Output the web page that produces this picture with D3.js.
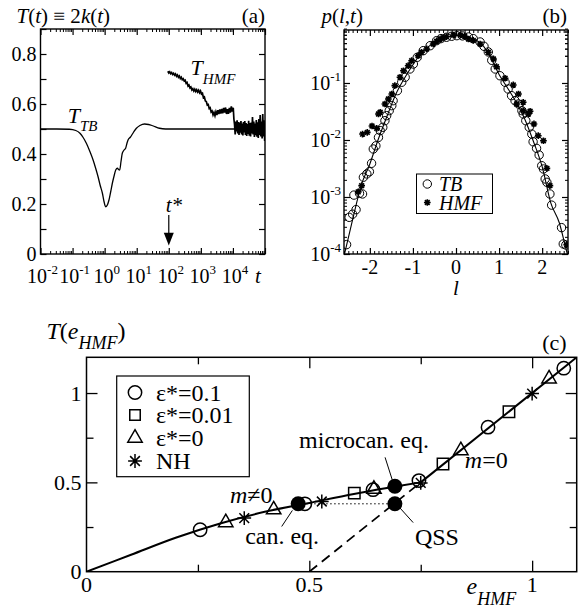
<!DOCTYPE html>
<html>
<head>
<meta charset="utf-8">
<script src="https://cdn.jsdelivr.net/npm/d3@7"></script>
<style>
body { margin: 0; background: #fff; }
text { font-family: 'Liberation Serif', 'DejaVu Serif', serif; }
</style>
</head>
<body>
<div id="chart"></div>
<script>
// ---- panel (a): T(t) vs t (log10 t exponents)
var tbExp = [-2,-1.5,-1.1,-0.9,-0.77,-0.67,-0.57,-0.46,-0.36,-0.28,-0.205,-0.14,-0.07,-0.02,0.03,
  0.08,0.135,0.19,0.24,0.29,0.345,0.40,0.44,0.47,0.51,0.55,0.6,0.655,0.7,0.73,
  0.8,0.9,0.99,1.1,1.245,1.37,1.5,1.71,1.9,2.5,3,4,5];
var tbT = [.5,.5,.499,.494,.483,.466,.443,.41,.376,.343,.309,.275,.243,.21,.189,
  .195,.216,.25,.283,.31,.336,.343,.337,.336,.37,.403,.415,.423,.445,.456,
  .467,.487,.503,.514,.52,.518,.513,.503,.5,.5,.5,.5,.5];

var hmfExp = [1.97,2.00,2.03,2.06,2.09,2.12,2.15,2.18,2.21,2.24,
  2.27,2.30,2.33,2.36,2.39,2.42,2.45,2.48,2.51,2.54,
  2.57,2.60,2.63,2.66,2.69,2.72,2.75,2.78,2.81,2.84,
  2.87,2.90,2.93,2.96,2.99,3.02,3.05,3.08,3.11,3.14,
  3.17,3.20,3.23,3.26,3.29,3.32,3.35,3.38,3.41,3.44,
  3.47,3.50,3.53,3.56,3.59,3.62,3.65,3.68,3.71,3.74,
  3.77,3.80,3.83,3.86,3.89,3.92,3.95,3.98,4.01,4.03,
  4.05,4.07,4.09,4.11,4.13,4.15,4.17,4.19,4.21,4.23,
  4.25,4.27,4.29,4.31,4.33,4.35,4.37,4.39,4.41,4.43,
  4.45,4.47,4.49,4.51,4.53,4.55,4.57,4.59,4.61,4.63,
  4.65,4.67,4.69,4.71,4.73,4.75,4.77,4.79,4.81,4.83,
  4.85,4.87,4.89,4.91,4.93,4.95,4.97,4.99,5.00];
var hmfT = [.731,.724,.729,.721,.726,.718,.723,.715,.720,.711,
  .716,.707,.712,.702,.707,.697,.701,.692,.695,.683,
  .686,.672,.676,.664,.668,.656,.661,.652,.659,.650,
  .657,.648,.655,.645,.652,.640,.643,.625,.628,.612,
  .610,.596,.598,.582,.585,.568,.572,.556,.566,.553,
  .569,.556,.575,.560,.578,.562,.580,.563,.584,.566,
  .586,.560,.579,.561,.584,.566,.590,.570,.585,.540,
  .518,.478,.530,.490,.535,.482,.528,.476,.526,.485,
  .532,.478,.522,.474,.528,.486,.532,.476,.524,.472,
  .520,.480,.533,.473,.524,.470,.526,.482,.548,.478,
  .530,.468,.522,.475,.536,.469,.527,.464,.540,.476,
  .556,.470,.530,.462,.560,.470,.535,.452,.500];

var aYTicks = [0, 0.2, 0.4, 0.6, 0.8];
var aXDecades = [-2, -1, 0, 1, 2, 3, 4];

// ---- panel (b): p(l,t)
var tbL = [-2.54,-2.48,-2.40,-2.32,-2.37,-2.24,-2.17,-2.15,-2.07,-2.01,
  -1.96,-1.92,-1.86,-1.80,-1.76,-1.70,-1.65,-1.61,-1.55,-1.49,
  -1.46,-1.36,-1.26,-1.18,-1.07,-0.99,-0.90,-0.76,-0.60,-0.45,
  -0.35,-0.22,-0.10,0.02,0.15,0.29,0.40,0.56,0.65,0.75,
  0.83,0.91,1.02,1.14,1.21,1.29,1.37,1.45,1.53,1.56,
  1.62,1.70,1.76,1.79,1.87,1.93,1.99,2.03,2.07,2.11,
  2.18,2.22,2.45,2.49,2.55];
var tbP = [1.46e-4,4.4e-4,5.0e-4,6.0e-4,1.08e-3,1.16e-3,1.13e-3,2.22e-3,2.54e-3,2.78e-3,
  3.9e-3,6.95e-3,7.9e-3,0.0111,0.0146,0.0167,0.0218,0.0267,0.0327,0.040,
  0.0489,0.0733,0.103,0.126,0.176,0.215,0.282,0.369,0.451,0.552,
  0.60,0.634,0.66,0.676,0.67,0.641,0.60,0.524,0.44,0.35,
  0.25,0.176,0.134,0.103,0.0785,0.0599,0.0489,0.0428,0.0327,0.0286,
  0.0218,0.0167,0.0127,0.0093,0.00714,0.00545,0.00354,0.0031,0.00207,0.00181,
  0.00113,7.2e-4,2.9e-4,1.5e-4,1.44e-4];

var hmfL = [-2.27,-2.19,-2.17,-2.06,-1.95,-1.84,-1.80,-1.76,-1.65,-1.57,
  -1.49,-1.42,-1.30,-1.22,-1.11,-1.03,-0.88,-0.80,-0.68,-0.53,
  -0.45,-0.37,-0.30,-0.22,-0.06,0.10,0.20,0.29,0.40,0.56,
  0.75,0.87,0.94,1.14,1.33,1.41,1.45,1.56,1.56,1.68,
  1.72,1.81,1.91,2.03,2.11,2.18,2.57];
var hmfP = [1.23e-3,1.58e-3,0.0127,0.0136,0.0176,0.016,0.0286,0.0306,0.0428,0.0524,
  0.0641,0.0897,0.126,0.164,0.201,0.246,0.301,0.346,0.395,0.483,
  0.54,0.591,0.62,0.649,0.695,0.69,0.66,0.591,0.56,0.483,
  0.346,0.264,0.193,0.121,0.0923,0.0428,0.0641,0.0458,0.0327,0.0286,
  0.0319,0.0191,0.0119,0.0097,3.18e-3,1.58e-3,1.46e-4];

var fitL = [-2.62,-2.4,-2.2,-2.0,-1.8,-1.6,-1.4,-1.2,-1.0,-0.8,-0.6,-0.4,-0.2,0,
  0.2,0.4,0.6,0.8,1.0,1.2,1.4,1.6,1.8,2.0,2.2,2.4,2.55,2.62];
var fitP = [7.9e-5,4.0e-4,1.6e-3,3.8e-3,0.0105,0.0263,0.063,0.12,0.209,0.339,0.457,0.562,0.646,0.676,
  0.661,0.589,0.479,0.282,0.141,0.081,0.0457,0.0229,0.0093,0.0034,7.9e-4,3.5e-4,1.26e-4,7.9e-5];

var bXTicks = [-2, -1, 0, 1, 2];
var bYDecades = [-4, -3, -2, -1];

// ---- panel (c): T(e_HMF)
var lowE = [0, 0.1, 0.2, 0.3, 0.4, 0.5, 0.6, 0.7, 0.75];
var lowT = [0, 0.095, 0.19, 0.27, 0.335, 0.385, 0.435, 0.48, 0.5];
var highE = [0.75, 1.1];
var highT = [0.5, 1.2];
var qssE = [0.5, 0.75];     // dashed m=0 continuation
var qssT = [0, 0.5];

var eps01E = [0.255, 0.49, 0.643, 0.746, 0.901, 1.071];
var eps01T = [0.235, 0.38, 0.459, 0.51, 0.809, 1.139];
var eps001E = [0.601, 0.80, 0.948];
var eps001T = [0.44, 0.603, 0.895];
var eps0E = [0.3125, 0.42, 0.645, 0.84, 1.038];
var eps0T = [0.275, 0.347, 0.462, 0.678, 1.08];
var nhE = [0.354, 0.528, 0.75, 1.0];
var nhT = [0.30, 0.393, 0.497, 0.997];

var canE = 0.475, canT = 0.38;      // can. eq.
var micE = 0.692, micT = 0.478;     // microcan. eq.
var qsE = 0.692, qsT = 0.38;        // QSS

var cTicks = [0, 0.5, 1];
var cTickLabels = ['0', '0.5', '1'];
var legendC = ['\u03b5*=0.1', '\u03b5*=0.01', '\u03b5*=0', 'NH'];

// ---------------------------------------------------------------
var FONT = "'Liberation Serif', 'DejaVu Serif', serif";
var svg = d3.select('#chart').append('svg').attr('width', 582).attr('height', 609)
  .style('font-family', FONT);

// 8-armed star like xmgrace
var star8 = {
  draw: function(ctx, size) {
    var r = Math.sqrt(size) / 2;
    for (var i = 0; i < 4; i++) {
      var a = i * Math.PI / 4;
      ctx.moveTo(-r * Math.cos(a), -r * Math.sin(a));
      ctx.lineTo(r * Math.cos(a), r * Math.sin(a));
    }
  }
};

function label(x, y, parts, size, anchor) {
  var t = svg.append('text').attr('x', x).attr('y', y)
    .style('font-family', FONT)
    .attr('font-size', size).attr('text-anchor', anchor || 'start');
  parts.forEach(function(p) {
    var s = t.append('tspan').text(p.t);
    if (p.i) s.attr('font-style', 'italic');
    if (p.dy) s.attr('dy', p.dy);
    if (p.fs) s.attr('font-size', p.fs);
  });
  return t;
}

function addTicks(axis, tr, w) {
  svg.append('g').attr('transform', tr)
    .call(axis.tickFormat(''))
    .call(function(s) {
      s.select('.domain').remove();
      s.selectAll('text').remove();
      s.selectAll('line').attr('stroke-width', w || 1);
    });
}

function frame(x0, y0, x1, y1, w) {
  svg.append('rect').attr('x', x0).attr('y', y0)
    .attr('width', x1 - x0).attr('height', y1 - y0)
    .attr('fill', 'none').attr('stroke', '#000').attr('stroke-width', w);
}

function clip(id, x0, y0, x1, y1) {
  svg.append('clipPath').attr('id', id).append('rect')
    .attr('x', x0).attr('y', y0).attr('width', x1 - x0).attr('height', y1 - y0);
}

// ================= panel (a)
var aL = 40.5, aR = 265, aT = 29, aB = 254;
var xA = d3.scaleLog().domain([1e-2, 1e5]).range([aL, aR]);
var yA = d3.scaleLinear().domain([0, 0.9]).range([aB, aT]);

var aMaj = [], aMin = [];
for (var d = -2; d <= 5; d++) {
  aMaj.push(Math.pow(10, d));
  if (d < 5) for (var k = 2; k <= 9; k++) aMin.push(k * Math.pow(10, d));
}
var aY = d3.range(0, 0.91, 0.1);

addTicks(d3.axisBottom(xA).tickValues(aMaj).tickSize(-6), 'translate(0,' + aB + ')', 1.2);
addTicks(d3.axisBottom(xA).tickValues(aMin).tickSize(-3), 'translate(0,' + aB + ')', 1);
addTicks(d3.axisTop(xA).tickValues(aMaj).tickSize(-6), 'translate(0,' + aT + ')', 1.2);
addTicks(d3.axisTop(xA).tickValues(aMin).tickSize(-3), 'translate(0,' + aT + ')', 1);
addTicks(d3.axisLeft(yA).tickValues(aY).tickSize(-6), 'translate(' + aL + ',0)', 1.2);
addTicks(d3.axisRight(yA).tickValues(aY).tickSize(-6), 'translate(' + aR + ',0)', 1.2);

clip('clipA', aL, aT, aR, aB);
var lineA = d3.line().x(function(d) { return xA(Math.pow(10, d[0])); }).y(function(d) { return yA(d[1]); });
svg.append('path').attr('clip-path', 'url(#clipA)')
  .attr('d', lineA.curve(d3.curveMonotoneX)(d3.zip(tbExp, tbT)))
  .attr('fill', 'none').attr('stroke', '#000').attr('stroke-width', 1.3);
svg.append('path').attr('clip-path', 'url(#clipA)')
  .attr('d', lineA.curve(d3.curveLinear)(d3.zip(hmfExp, hmfT)))
  .attr('fill', 'none').attr('stroke', '#000').attr('stroke-width', 1.7);

frame(aL, aT, aR, aB, 1.4);

aYTicks.forEach(function(v) {
  label(36.5, yA(v), [{ t: v === 0 ? '0' : d3.format('.1f')(v) }], 20, 'end').attr('dy', '0.35em');
});
aXDecades.forEach(function(e) {
  label(xA(Math.pow(10, e)) + 2, 283, [{ t: '10' }, { t: e < 0 ? '-' + (-e) : String(e), fs: 13, dy: -9 }], 20, 'middle');
});
label(255, 283, [{ t: 't', i: 1 }], 21);
label(16.5, 22.5, [{ t: 'T', i: 1 }, { t: '(' }, { t: 't', i: 1 }, { t: ') \u2261 2' }, { t: 'k', i: 1 }, { t: '(' }, { t: 't', i: 1 }, { t: ')' }], 21);
label(265, 22.5, [{ t: '(a)' }], 21, 'end');
label(xA(Math.pow(10, -1.15)), yA(0.523), [{ t: 'T', i: 1 }, { t: 'TB', i: 1, fs: 15, dy: 8 }], 22);
label(xA(Math.pow(10, 2.68)), yA(0.716), [{ t: 'T', i: 1 }, { t: 'HMF', i: 1, fs: 15, dy: 9 }], 22);

// t* arrow
svg.append('line').attr('x1', xA(100)).attr('x2', xA(100))
  .attr('y1', yA(0.156)).attr('y2', yA(0.07))
  .attr('stroke', '#000').attr('stroke-width', 1.2);
svg.append('path')
  .attr('d', 'M' + (xA(100) - 5) + ',' + yA(0.085) + 'L' + (xA(100) + 5) + ',' + yA(0.085) + 'L' + xA(100) + ',' + yA(0.034) + 'Z')
  .attr('fill', '#000');
label(xA(100) - 3, yA(0.168), [{ t: 't*', i: 1 }], 21);

// ================= panel (b)
var bL = 344, bR = 568, bT = 30, bB = 254;
var xB = d3.scaleLinear().domain([-2.6, 2.6]).range([bL, bR]);
var yB = d3.scaleLog().domain([1e-4, 0.85]).range([bB, bT]);

var bYMaj = [], bYMin = [];
for (var d2 = -4; d2 <= -1; d2++) {
  bYMaj.push(Math.pow(10, d2));
  for (var k2 = 2; k2 <= 9; k2++) bYMin.push(k2 * Math.pow(10, d2));
}
bYMin = bYMin.concat([0.2, 0.3, 0.4, 0.5, 0.6, 0.7, 0.8]);
var bXMin = d3.range(-2.6, 2.61, 0.1).filter(function(v) { return Math.abs(v - Math.round(v)) > 0.01; });

addTicks(d3.axisBottom(xB).tickValues(bXTicks).tickSize(-6), 'translate(0,' + bB + ')', 1.2);
addTicks(d3.axisBottom(xB).tickValues(bXMin).tickSize(-3), 'translate(0,' + bB + ')', 1);
addTicks(d3.axisTop(xB).tickValues(bXTicks).tickSize(-6), 'translate(0,' + bT + ')', 1.2);
addTicks(d3.axisTop(xB).tickValues(bXMin).tickSize(-3), 'translate(0,' + bT + ')', 1);
addTicks(d3.axisLeft(yB).tickValues(bYMaj).tickSize(-6), 'translate(' + bL + ',0)', 1.2);
addTicks(d3.axisLeft(yB).tickValues(bYMin).tickSize(-3), 'translate(' + bL + ',0)', 1);
addTicks(d3.axisRight(yB).tickValues(bYMaj).tickSize(-6), 'translate(' + bR + ',0)', 1.2);
addTicks(d3.axisRight(yB).tickValues(bYMin).tickSize(-3), 'translate(' + bR + ',0)', 1);

clip('clipB', bL, bT, bR, bB);
svg.append('path').attr('clip-path', 'url(#clipB)')
  .attr('d', d3.line().curve(d3.curveMonotoneX)
    .x(function(d) { return xB(d[0]); }).y(function(d) { return yB(d[1]); })(d3.zip(fitL, fitP)))
  .attr('fill', 'none').attr('stroke', '#000').attr('stroke-width', 1.1);

svg.append('g').attr('clip-path', 'url(#clipB)').selectAll('circle')
  .data(d3.zip(tbL, tbP)).enter().append('circle')
  .attr('cx', function(d) { return xB(d[0]); })
  .attr('cy', function(d) { return yB(d[1]); })
  .attr('r', 4.2).attr('fill', 'none').attr('stroke', '#000').attr('stroke-width', 1);

svg.append('g').attr('clip-path', 'url(#clipB)').selectAll('path')
  .data(d3.zip(hmfL, hmfP)).enter().append('path')
  .attr('transform', function(d) { return 'translate(' + xB(d[0]) + ',' + yB(d[1]) + ')'; })
  .attr('d', d3.symbol().type(star8).size(45))
  .attr('fill', 'none').attr('stroke', '#000').attr('stroke-width', 1.6);

frame(bL, bT, bR, bB, 1.4);

bXTicks.forEach(function(v) {
  label(xB(v), 273.5, [{ t: v < 0 ? '-' + (-v) : String(v) }], 20, 'middle');
});
bYDecades.forEach(function(e) {
  label(341, yB(Math.pow(10, e)) + 7, [{ t: '10' }, { t: '-' + (-e), fs: 13, dy: -9 }], 20, 'end');
});
label(xB(0), 295, [{ t: 'l', i: 1 }], 21, 'middle');
label(321.5, 22.5, [{ t: 'p', i: 1 }, { t: '(' }, { t: 'l', i: 1 }, { t: ',' }, { t: 't', i: 1 }, { t: ')' }], 21);
label(567, 22.5, [{ t: '(b)' }], 21, 'end');

// legend (b)
svg.append('rect').attr('x', 416.5).attr('y', 174).attr('width', 76).attr('height', 39.5)
  .attr('fill', '#fff').attr('stroke', '#000').attr('stroke-width', 1);
svg.append('circle').attr('cx', 427.3).attr('cy', 184).attr('r', 4.2)
  .attr('fill', 'none').attr('stroke', '#000').attr('stroke-width', 1);
svg.append('path').attr('transform', 'translate(427.3,202.5)')
  .attr('d', d3.symbol().type(star8).size(45)())
  .attr('fill', 'none').attr('stroke', '#000').attr('stroke-width', 1.6);
label(439, 190.5, [{ t: 'TB', i: 1 }], 20);
label(439, 209.5, [{ t: 'HMF', i: 1 }], 20);

// ================= panel (c)
var cL = 86.5, cR = 576.7, cT = 357.3, cB = 571.7;
var xC = d3.scaleLinear().domain([0, 1.1]).range([cL, cR]);
var yC = d3.scaleLinear().domain([0, 1.2]).range([cB, cT]);
var cMin = [0.25, 0.75];
var cMajIn = [0.5, 1];

addTicks(d3.axisBottom(xC).tickValues(cMajIn).tickSize(-11), 'translate(0,' + cB + ')', 1.3);
addTicks(d3.axisBottom(xC).tickValues(cMin).tickSize(-7), 'translate(0,' + cB + ')', 1.3);
addTicks(d3.axisTop(xC).tickValues(cMajIn).tickSize(-11), 'translate(0,' + cT + ')', 1.3);
addTicks(d3.axisTop(xC).tickValues(cMin).tickSize(-7), 'translate(0,' + cT + ')', 1.3);
addTicks(d3.axisLeft(yC).tickValues(cMajIn).tickSize(-11), 'translate(' + cL + ',0)', 1.3);
addTicks(d3.axisLeft(yC).tickValues(cMin).tickSize(-7), 'translate(' + cL + ',0)', 1.3);
addTicks(d3.axisRight(yC).tickValues(cMajIn).tickSize(-11), 'translate(' + cR + ',0)', 1.3);
addTicks(d3.axisRight(yC).tickValues(cMin).tickSize(-7), 'translate(' + cR + ',0)', 1.3);

clip('clipC', cL, cT, cR, cB);
var lineC = d3.line().x(function(d) { return xC(d[0]); }).y(function(d) { return yC(d[1]); });
var gC = svg.append('g').attr('clip-path', 'url(#clipC)');
gC.append('path').attr('d', lineC.curve(d3.curveMonotoneX)(d3.zip(lowE, lowT)))
  .attr('fill', 'none').attr('stroke', '#000').attr('stroke-width', 2);
gC.append('path').attr('d', lineC.curve(d3.curveLinear)(d3.zip(highE, highT)))
  .attr('fill', 'none').attr('stroke', '#000').attr('stroke-width', 2);
gC.append('path').attr('d', lineC(d3.zip(qssE, qssT)))
  .attr('fill', 'none').attr('stroke', '#000').attr('stroke-width', 1.8).attr('stroke-dasharray', '10,6');
gC.append('line').attr('x1', xC(canE)).attr('x2', xC(qsE)).attr('y1', yC(canT)).attr('y2', yC(qsT))
  .attr('stroke', '#000').attr('stroke-width', 1).attr('stroke-dasharray', '1.5,2.5');

// leader lines
[[0.438, 0.253, 0.462, 0.343], [0.67, 0.64, 0.686, 0.515], [0.703, 0.358, 0.733, 0.275]].forEach(function(s) {
  svg.append('line').attr('x1', xC(s[0])).attr('y1', yC(s[1])).attr('x2', xC(s[2])).attr('y2', yC(s[3]))
    .attr('stroke', '#000').attr('stroke-width', 1);
});

function markers(E, T, type, size) {
  svg.append('g').selectAll('path').data(d3.zip(E, T)).enter().append('path')
    .attr('transform', function(d) { return 'translate(' + xC(d[0]) + ',' + yC(d[1]) + ')'; })
    .attr('d', d3.symbol().type(type).size(size))
    .attr('fill', 'none').attr('stroke', '#000').attr('stroke-width', 1.5);
}
markers(eps001E, eps001T, d3.symbolSquare, 130);
markers(eps0E, eps0T, d3.symbolTriangle, 90);
markers(nhE, nhT, star8, 190);
markers(eps01E, eps01T, d3.symbolCircle, 140);

svg.append('g').selectAll('circle').data([[canE, canT], [micE, micT], [qsE, qsT]]).enter()
  .append('circle')
  .attr('cx', function(d) { return xC(d[0]); })
  .attr('cy', function(d) { return yC(d[1]); })
  .attr('r', 7.5).attr('fill', '#000');

frame(cL, cT, cR, cB, 1.5);

cTicks.forEach(function(v, i) {
  label(xC(v), 592, [{ t: cTickLabels[i] }], 22, 'middle');
  label(81.5, yC(v) + 7.5, [{ t: cTickLabels[i] }], 22, 'end');
});
label(46.5, 338.5, [{ t: 'T', i: 1 }, { t: '(' }, { t: 'e', i: 1 }, { t: 'HMF', i: 1, fs: 18, dy: 10 }, { t: ')', dy: -10 }], 24);
label(466.5, 594, [{ t: 'e', i: 1 }, { t: 'HMF', i: 1, fs: 18, dy: 11 }], 24);
label(566.7, 350, [{ t: '(c)' }], 22, 'end');

label(xC(0.322), yC(0.384), [{ t: 'm', i: 1 }, { t: '\u22600' }], 24);
label(xC(0.356), yC(0.155), [{ t: 'can. eq.' }], 24);
label(xC(0.477), yC(0.693), [{ t: 'microcan. eq.' }], 24);
label(xC(0.737), yC(0.15), [{ t: 'QSS' }], 24);
label(xC(0.849), yC(0.58), [{ t: 'm', i: 1 }, { t: '=0' }], 24);

// legend (c)
svg.append('rect').attr('x', 116.7).attr('y', 376).attr('width', 132.6).attr('height', 100.7)
  .attr('fill', '#fff').attr('stroke', '#000').attr('stroke-width', 1.2);
var legTypes = [d3.symbolCircle, d3.symbolSquare, d3.symbolTriangle, star8];
var legSizes = [140, 110, 90, 190];
var legY = [392.5, 415, 438, 461];
legendC.forEach(function(name, i) {
  svg.append('path').attr('transform', 'translate(135,' + legY[i] + ')')
    .attr('d', d3.symbol().type(legTypes[i]).size(legSizes[i])())
    .attr('fill', 'none').attr('stroke', '#000').attr('stroke-width', 1.5);
  label(156, legY[i] + 8, [{ t: name }], 24);
});
</script>
</body>
</html>
